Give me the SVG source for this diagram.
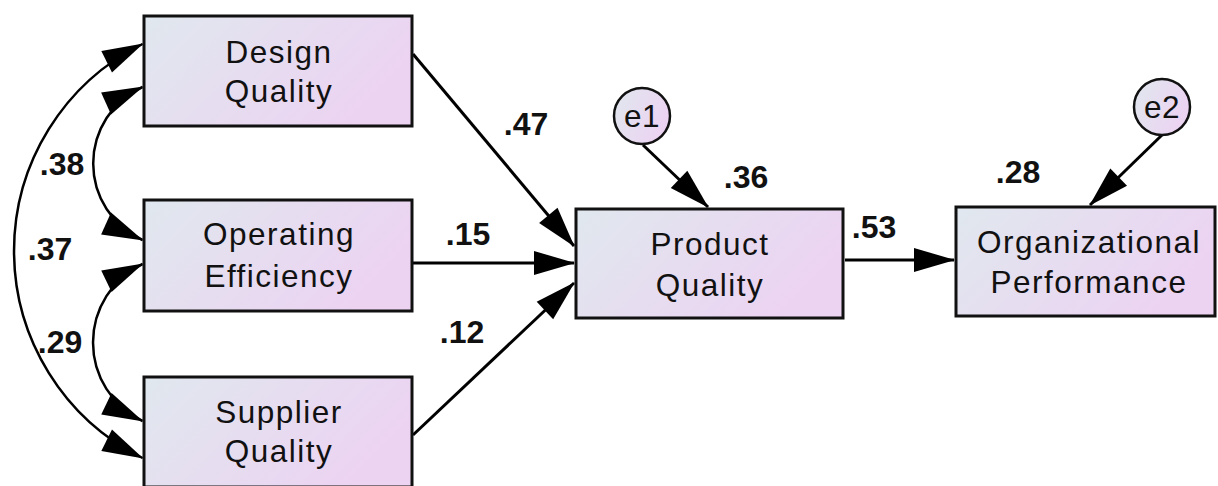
<svg xmlns="http://www.w3.org/2000/svg" width="1218" height="486" viewBox="0 0 1218 486">
  <style>
    .box { fill: url(#g); stroke: #111; stroke-width: 3; }
    .err { fill: url(#g); stroke: #111; stroke-width: 2.5; }
    .lbl { font-family: "Liberation Sans", Arial, sans-serif; font-size: 31.5px; letter-spacing: 1.5px; text-anchor: middle; fill: #111; }
    .num { font-family: "Liberation Sans", Arial, sans-serif; font-size: 32px; font-weight: bold; text-anchor: middle; fill: #111; }
    .ln { fill: none; stroke: #000; stroke-width: 3; marker-end: url(#ah); }
    .cv { fill: none; stroke: #000; stroke-width: 2.5; marker-start: url(#ahs); marker-end: url(#ah); }
  </style>
  <defs>
    <linearGradient id="g" x1="0" y1="0" x2="1" y2="0.4">
      <stop offset="0" stop-color="#e0e8ee"/>
      <stop offset="1" stop-color="#ecd3f2"/>
    </linearGradient>
    <marker id="ah" markerUnits="userSpaceOnUse" markerWidth="42" markerHeight="24" refX="40" refY="12" orient="auto" overflow="visible">
      <path d="M0,0 L41,12 L0,24 z" fill="#000"/>
    </marker>
    <marker id="ahs" markerUnits="userSpaceOnUse" markerWidth="42" markerHeight="24" refX="40" refY="12" orient="auto-start-reverse" overflow="visible">
      <path d="M0,0 L41,12 L0,24 z" fill="#000"/>
    </marker>
  </defs>

  <g id="connectors">
    <path class="cv" d="M142.5,44 A231,231 0 0 0 142.5,458"/>
    <path class="cv" d="M142.5,87 A84,84 0 0 0 142.5,240"/>
    <path class="cv" d="M142.5,264 A87,87 0 0 0 142.5,421"/>
    <path class="ln" d="M413,54 L574,246"/>
    <path class="ln" d="M413,263 L574,263"/>
    <path class="ln" d="M413,435 L574,283"/>
    <path class="ln" d="M643,145 L708,207"/>
    <path class="ln" d="M845,260 L954,260"/>
    <path class="ln" d="M1162,135 L1090,205"/>
    <text class="num" x="62" y="175">.38</text>
    <text class="num" x="50" y="260">.37</text>
    <text class="num" x="60" y="353">.29</text>
    <text class="num" x="526" y="135">.47</text>
    <text class="num" x="468" y="245">.15</text>
    <text class="num" x="462" y="343">.12</text>
    <text class="num" x="746" y="188">.36</text>
    <text class="num" x="874" y="238">.53</text>
    <text class="num" x="1018" y="183">.28</text>
  </g>

  <g id="design-quality">
    <rect class="box" x="144" y="16" width="268" height="110"/>
    <text class="lbl" x="279" y="63">Design</text>
    <text class="lbl" x="279" y="102">Quality</text>
  </g>
  <g id="operating-efficiency">
    <rect class="box" x="144" y="200" width="268" height="111"/>
    <text class="lbl" x="279" y="245">Operating</text>
    <text class="lbl" x="279" y="287">Efficiency</text>
  </g>
  <g id="supplier-quality">
    <rect class="box" x="144" y="377" width="268" height="110"/>
    <text class="lbl" x="279" y="423">Supplier</text>
    <text class="lbl" x="279" y="462">Quality</text>
  </g>
  <g id="product-quality">
    <rect class="box" x="576" y="209" width="267" height="109"/>
    <text class="lbl" x="710" y="255">Product</text>
    <text class="lbl" x="710" y="296">Quality</text>
  </g>
  <g id="organizational-performance">
    <rect class="box" x="956" y="207" width="259" height="109"/>
    <text class="lbl" x="1089" y="253">Organizational</text>
    <text class="lbl" x="1089" y="293">Performance</text>
  </g>
  <g id="e1">
    <circle class="err" cx="642" cy="116" r="28"/>
    <text class="lbl" x="642" y="127" style="letter-spacing:0.5px">e1</text>
  </g>
  <g id="e2">
    <circle class="err" cx="1162" cy="107" r="28"/>
    <text class="lbl" x="1162" y="118" style="letter-spacing:0.5px">e2</text>
  </g>
</svg>
